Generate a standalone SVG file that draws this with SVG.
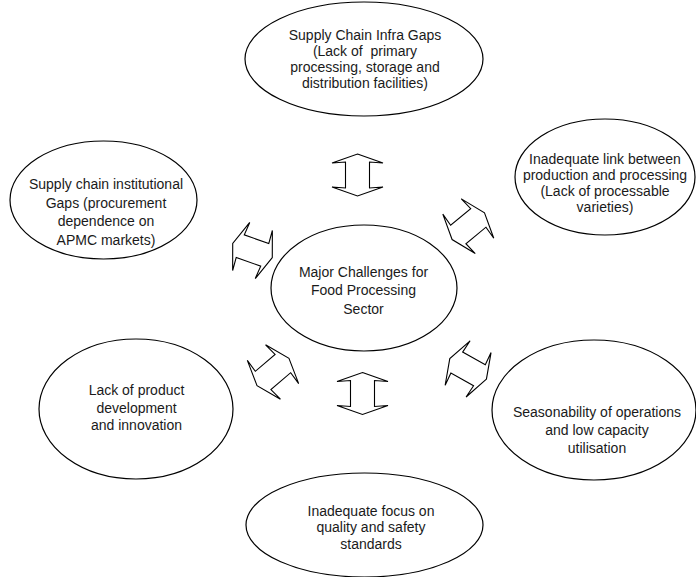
<svg xmlns="http://www.w3.org/2000/svg" xmlns:xlink="http://www.w3.org/1999/xlink" width="696" height="577" viewBox="0 0 696 577">
<style>
.n ellipse{fill:#fff;stroke:#000;stroke-width:1.2}
.n text{font-family:"Liberation Sans",Arial,sans-serif;font-size:14px;fill:#1a1a1a;text-anchor:middle}
.c use{fill:#fff;stroke:#000;stroke-width:1.1;stroke-linejoin:miter}
</style>
<defs>
<path id="arr" d="M0,-21 L25.5,-12 L12,-13 L12,13 L25.5,12 L0,21 L-25.5,12 L-12,13 L-12,-13 L-25.5,-12 Z"/>
</defs>
<rect width="696" height="577" fill="#fff"/>
<g id="connectors" class="c">
<use xlink:href="#arr" transform="translate(357.5,175)"/>
<use xlink:href="#arr" transform="translate(362.5,393.5)"/>
<use xlink:href="#arr" transform="translate(252.5,250.5) rotate(109.6)"/>
<use xlink:href="#arr" transform="translate(273,372) rotate(49.5)"/>
<use xlink:href="#arr" transform="translate(468.3,226.2) rotate(50.5)"/>
<use xlink:href="#arr" transform="translate(468.1,368.9) rotate(119.3)"/>
</g>
<g id="n-infra" class="n">
<ellipse cx="364" cy="59" rx="119" ry="57"/>
<text x="365" y="39.5">Supply Chain Infra Gaps</text>
<text x="365" y="55.5" xml:space="preserve">(Lack of  primary</text>
<text x="365" y="71.5">processing, storage and</text>
<text x="365" y="87.5">distribution facilities)</text>
</g>
<g id="n-center" class="n">
<ellipse cx="364" cy="288" rx="93" ry="63"/>
<text x="363.5" y="276.5">Major Challenges for</text>
<text x="363.5" y="295">Food Processing</text>
<text x="363.5" y="313.5">Sector</text>
</g>
<g id="n-link" class="n">
<ellipse cx="605" cy="177" rx="90" ry="58"/>
<text x="605" y="163.5">Inadequate link between</text>
<text x="605" y="179.5">production and processing</text>
<text x="605" y="196">(Lack of processable</text>
<text x="605" y="212">varieties)</text>
</g>
<g id="n-institutional" class="n">
<ellipse cx="103.5" cy="200" rx="93.5" ry="59"/>
<text x="106" y="189">Supply chain institutional</text>
<text x="106" y="207.5">Gaps (procurement</text>
<text x="106" y="226">dependence on</text>
<text x="106" y="244.5">APMC markets)</text>
</g>
<g id="n-product" class="n">
<ellipse cx="136" cy="409" rx="97" ry="70"/>
<text x="136.5" y="395">Lack of product</text>
<text x="136.5" y="412.5">development</text>
<text x="136.5" y="430">and innovation</text>
</g>
<g id="n-season" class="n">
<ellipse cx="594" cy="410" rx="102" ry="70"/>
<text x="597" y="417">Seasonability of operations</text>
<text x="597" y="435">and low capacity</text>
<text x="597" y="453">utilisation</text>
</g>
<g id="n-quality" class="n">
<ellipse cx="364.5" cy="525" rx="118.5" ry="52"/>
<text x="371" y="515.5">Inadequate focus on</text>
<text x="371" y="532">quality and safety</text>
<text x="371" y="548.5">standards</text>
</g>
</svg>
